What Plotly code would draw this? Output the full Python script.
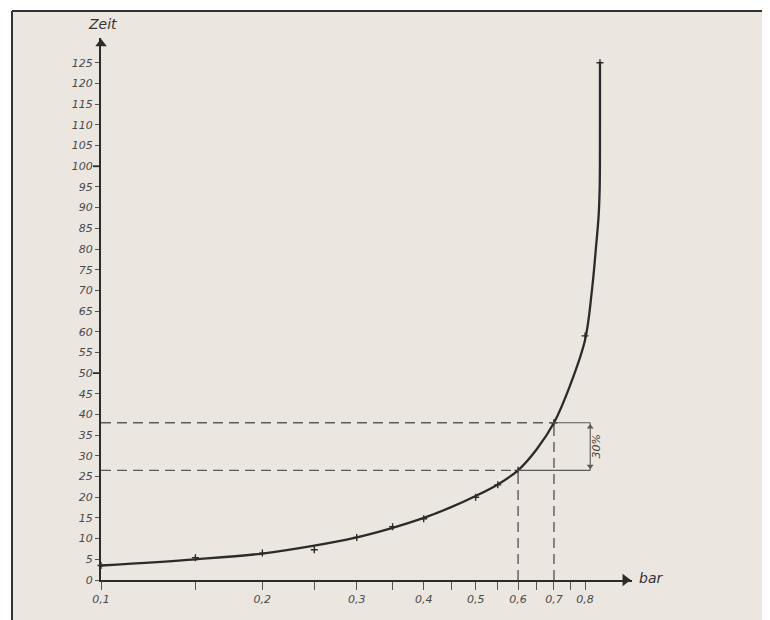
import plotly.graph_objects as go

# ---- data ----
curve_bar = [0.1, 0.15, 0.2, 0.25, 0.3, 0.35, 0.4, 0.45, 0.5, 0.55, 0.6, 0.65, 0.7, 0.75, 0.8, 0.824, 0.838, 0.848, 0.852, 0.853, 0.853]
curve_zeit = [3.5, 5.0, 6.4, 8.3, 10.3, 12.6, 15.0, 17.6, 20.3, 23.1, 26.5, 31.6, 38, 47, 58, 70, 80, 88, 95, 110, 125]

meas_bar = [0.1, 0.15, 0.2, 0.25, 0.3, 0.35, 0.4, 0.5, 0.55, 0.6, 0.7, 0.8, 0.853]
meas_zeit = [3.5, 5.4, 6.5, 7.3, 10.3, 12.9, 14.8, 20.0, 23.0, 26.5, 38, 59, 125]

y_ticks = list(range(0, 130, 5))
y_labels = [str(v) for v in y_ticks]
x_major = [0.1, 0.2, 0.3, 0.4, 0.5, 0.6, 0.7, 0.8]
x_major_labels = ["0,1", "0,2", "0,3", "0,4", "0,5", "0,6", "0,7", "0,8"]
x_minor = [0.15, 0.25, 0.35, 0.45, 0.55, 0.65, 0.75]

lo_bar, lo_zeit = 0.6, 26.5
hi_bar, hi_zeit = 0.7, 38
arrow_bar = 0.818
pct_label = "30%"

INK = "#2b2b2b"
DASH = "#5a5a5a"
BG = "#ece6e1"

fig = go.Figure()

# main curve
fig.add_trace(go.Scatter(x=curve_bar, y=curve_zeit, mode="lines",
                         line=dict(color=INK, width=2.3, shape="spline", smoothing=1.0),
                         hoverinfo="skip", showlegend=False))
# measured points
fig.add_trace(go.Scatter(x=meas_bar, y=meas_zeit, mode="markers",
                         marker=dict(symbol="cross-thin", size=5, line=dict(color=INK, width=1.4)),
                         hoverinfo="skip", showlegend=False, cliponaxis=False))

# dashed guide lines (horizontal to curve, vertical down to axis), solid extension to the arrow
for xb, yz in [(lo_bar, lo_zeit), (hi_bar, hi_zeit)]:
    fig.add_trace(go.Scatter(x=[0.1, xb], y=[yz, yz], mode="lines",
                             line=dict(color=DASH, width=1.4, dash="10px,6px"),
                             hoverinfo="skip", showlegend=False))
    fig.add_trace(go.Scatter(x=[xb, xb], y=[0, yz], mode="lines",
                             line=dict(color=DASH, width=1.4, dash="10px,6px"),
                             hoverinfo="skip", showlegend=False))
    fig.add_trace(go.Scatter(x=[xb, arrow_bar], y=[yz, yz], mode="lines",
                             line=dict(color=DASH, width=1.1),
                             hoverinfo="skip", showlegend=False))

# double arrow for the 30 %
fig.add_trace(go.Scatter(x=[arrow_bar, arrow_bar], y=[lo_zeit, hi_zeit], mode="lines",
                         line=dict(color=DASH, width=1.1), hoverinfo="skip", showlegend=False))
fig.add_trace(go.Scatter(x=[arrow_bar, arrow_bar], y=[hi_zeit - 1.0, lo_zeit + 1.0], mode="markers",
                         marker=dict(symbol=["triangle-up", "triangle-down"], size=6, color=DASH),
                         hoverinfo="skip", showlegend=False, cliponaxis=False))

# axis arrow heads
fig.add_trace(go.Scatter(x=[0.1], y=[129.6], mode="markers",
                         marker=dict(symbol="triangle-up", size=10, color=INK),
                         hoverinfo="skip", showlegend=False, cliponaxis=False))
fig.add_trace(go.Scatter(x=[0.951], y=[0], mode="markers",
                         marker=dict(symbol="triangle-right", size=11, color=INK),
                         hoverinfo="skip", showlegend=False, cliponaxis=False))

tickfont = dict(family="DejaVu Sans", size=11, color="#4a4a4a", style="italic")

fig.update_xaxes(type="log", range=[-1, -0.0093],
                 tickvals=x_major + x_minor,
                 ticktext=x_major_labels + [""] * len(x_minor),
                 ticks="outside", ticklen=8, tickwidth=1.3, tickcolor="#555",
                 showline=True, linewidth=2, linecolor=INK,
                 showgrid=False, zeroline=False, tickfont=tickfont)
fig.update_yaxes(range=[0, 131], tickvals=y_ticks, ticktext=y_labels,
                 ticks="outside", ticklen=4, tickwidth=1.3, tickcolor="#555",
                 showline=True, linewidth=2, linecolor=INK,
                 showgrid=False, zeroline=False, tickfont=tickfont)

FX = -0.1676   # frame left edge in paper units
FY = 1.0498    # frame top edge in paper units
shapes = [
    dict(type="rect", xref="paper", yref="paper", x0=FX, x1=1.4, y0=-0.2, y1=FY,
         fillcolor=BG, line=dict(width=0), layer="below"),
    dict(type="line", xref="paper", yref="paper", x0=FX, x1=1.4, y0=FY, y1=FY,
         line=dict(color="#333", width=2)),
    dict(type="line", xref="paper", yref="paper", x0=FX, x1=FX, y0=-0.2, y1=FY,
         line=dict(color="#333", width=2)),
]
# longer ticks at 50 and 100
for v in (50, 100):
    shapes.append(dict(type="line", xref="paper", yref="y", x0=-0.0151, x1=0, y0=v, y1=v,
                       line=dict(color=INK, width=1.8)))
fig.update_layout(shapes=shapes)

fig.add_annotation(text="Zeit", xref="paper", yref="paper", x=0.003, y=1.025,
                   showarrow=False, xanchor="center", yanchor="middle",
                   font=dict(family="DejaVu Sans", size=14, color="#333", style="italic"))
fig.add_annotation(text="bar", xref="paper", yref="paper", x=1.009, y=0.004,
                   showarrow=False, xanchor="left", yanchor="middle",
                   font=dict(family="DejaVu Sans", size=14, color="#333", style="italic"))
fig.add_annotation(text=pct_label, xref="paper", yref="y", x=0.934, y=(lo_zeit + hi_zeit) / 2,
                   showarrow=False, textangle=-90, xanchor="center", yanchor="middle",
                   font=dict(family="DejaVu Sans", size=11, color="#444", style="italic"))

# page body adds an 8px offset, so margins are shifted to compensate
fig.update_layout(width=770, height=620,
                  margin=dict(l=93, r=146, t=30, b=48),
                  paper_bgcolor="white", plot_bgcolor="rgba(0,0,0,0)",
                  showlegend=False)

fig.write_html("out.html")
